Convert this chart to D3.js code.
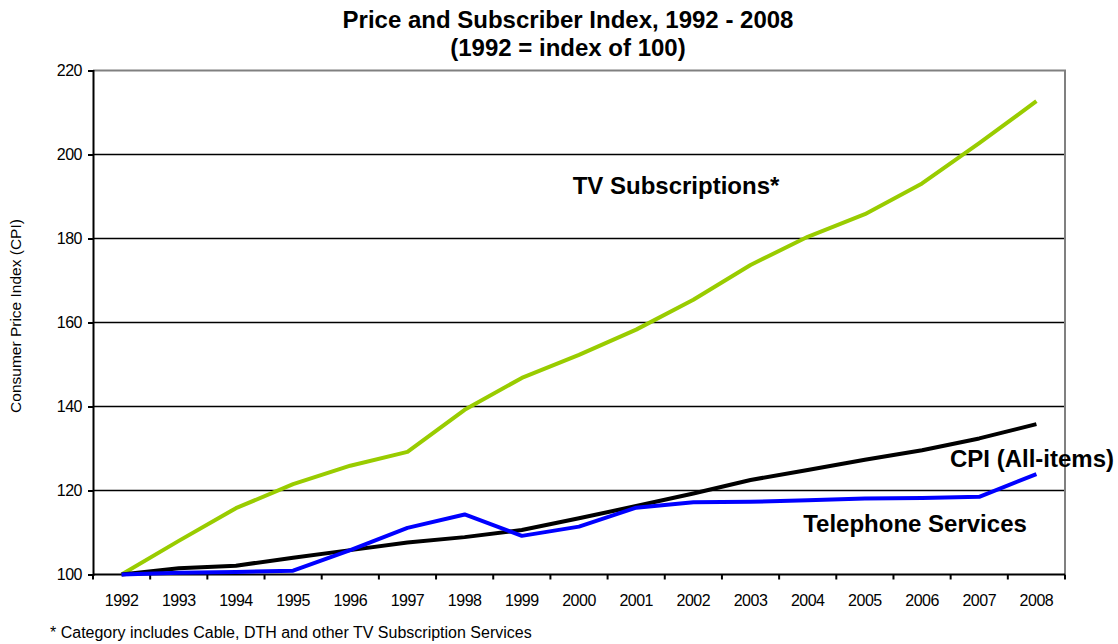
<!DOCTYPE html>
<html>
<head>
<meta charset="utf-8">
<script src="https://cdn.jsdelivr.net/npm/d3@7"></script>
<style>
  html, body { margin: 0; padding: 0; background: #fff; }
  svg { display: block; font-family: "Liberation Sans", Arial, sans-serif; }
</style>
</head>
<body>
<svg id="chart" width="1118" height="644"></svg>
<script>
// Index values, 1992 = 100
const years = ["1992","1993","1994","1995","1996","1997","1998","1999","2000",
               "2001","2002","2003","2004","2005","2006","2007","2008"];
const tvSubscriptions = [100, 108.0, 115.8, 121.5, 125.9, 129.2, 139.2, 146.8, 152.3,
                         158.3, 165.4, 173.7, 180.4, 185.8, 193.1, 202.7, 212.7];
const cpiAllItems     = [100, 101.5, 102.1, 104.0, 105.8, 107.6, 108.9, 110.6, 113.4,
                         116.3, 119.3, 122.5, 124.9, 127.3, 129.6, 132.4, 135.8];
const telephone       = [100, 100.4, 100.6, 100.9, 105.8, 111.1, 114.3, 109.2, 111.4,
                         115.9, 117.2, 117.3, 117.7, 118.1, 118.2, 118.5, 123.9];
const yTicks = [100, 120, 140, 160, 180, 200, 220];

const svg = d3.select("#chart");
const plot = { left: 93, right: 1065, top: 70.5, bottom: 574.5 };

const x = d3.scaleBand().domain(years).range([plot.left, plot.right]).paddingInner(0).paddingOuter(0);
const y = d3.scaleLinear().domain([100, 220]).range([plot.bottom, plot.top]);

// horizontal gridlines
svg.append("g")
  .selectAll("line")
  .data(yTicks.filter(v => v > 100 && v < 220))
  .join("line")
  .attr("x1", plot.left).attr("x2", plot.right)
  .attr("y1", d => y(d)).attr("y2", d => y(d))
  .attr("stroke", "#000").attr("stroke-width", 1.6);

// frame top and right
svg.append("path")
  .attr("d", `M${plot.left},${plot.top}H${plot.right}V${plot.bottom}`)
  .attr("fill", "none").attr("stroke", "#808080").attr("stroke-width", 2);

// y axis
const yAxis = svg.append("g")
  .attr("transform", `translate(${plot.left},0)`)
  .call(d3.axisLeft(y).tickValues(yTicks).tickSize(5).tickPadding(6).tickFormat(d3.format("d")));
yAxis.select(".domain").attr("stroke", "#000").attr("stroke-width", 2);
yAxis.selectAll(".tick line").attr("stroke", "#000").attr("stroke-width", 2);
yAxis.selectAll(".tick text").attr("font-size", 16).attr("fill", "#000")
  .attr("font-family", "Liberation Sans, Arial, sans-serif").attr("letter-spacing", -0.5);

// x axis: ticks on category boundaries
const xAxisG = svg.append("g").attr("transform", `translate(0,${plot.bottom})`);
xAxisG.append("line")
  .attr("x1", plot.left).attr("x2", plot.right)
  .attr("stroke", "#000").attr("stroke-width", 2);
const boundaries = years.map(d => x(d)).concat([x(years[years.length - 1]) + x.bandwidth()]);
xAxisG.selectAll("line.tk").data(boundaries).join("line").attr("class", "tk")
  .attr("x1", d => d).attr("x2", d => d).attr("y1", 0).attr("y2", 5)
  .attr("stroke", "#000").attr("stroke-width", 2);
xAxisG.selectAll("text").data(years).join("text")
  .attr("x", d => x(d) + x.bandwidth() / 2)
  .attr("y", 31)
  .attr("text-anchor", "middle")
  .attr("font-size", 16).attr("letter-spacing", -0.5)
  .text(d => d);

// series lines
const line = d3.line()
  .x((d, i) => x(years[i]) + x.bandwidth() / 2)
  .y(d => y(d));

const series = [
  { values: tvSubscriptions, color: "#99cc00" },
  { values: cpiAllItems, color: "#000000" },
  { values: telephone, color: "#0000ff" }
];
svg.append("g").selectAll("path").data(series).join("path")
  .attr("d", d => line(d.values))
  .attr("fill", "none")
  .attr("stroke", d => d.color)
  .attr("stroke-width", 4)
  .attr("stroke-linejoin", "round");

// series labels
const labels = [
  { text: "TV Subscriptions*", x: 676, y: 194 },
  { text: "CPI (All-items)",   x: 1032, y: 467 },
  { text: "Telephone Services", x: 915, y: 532 }
];
svg.append("g").selectAll("text").data(labels).join("text")
  .attr("x", d => d.x).attr("y", d => d.y)
  .attr("text-anchor", "middle")
  .attr("font-size", 24).attr("font-weight", "bold")
  .text(d => d.text);

// title
svg.append("text").attr("x", 568).attr("y", 28).attr("text-anchor", "middle")
  .attr("font-size", 24).attr("font-weight", "bold")
  .text("Price and Subscriber Index, 1992 - 2008");
svg.append("text").attr("x", 568).attr("y", 56).attr("text-anchor", "middle")
  .attr("font-size", 24).attr("font-weight", "bold")
  .text("(1992 = index of 100)");

// y axis title
svg.append("text")
  .attr("transform", "translate(21,316) rotate(-90)")
  .attr("text-anchor", "middle")
  .attr("font-size", 15.5)
  .text("Consumer Price Index (CPI)");

// footnote
svg.append("text").attr("x", 50).attr("y", 638)
  .attr("font-size", 16)
  .text("* Category includes Cable, DTH and other TV Subscription Services");
</script>
</body>
</html>
